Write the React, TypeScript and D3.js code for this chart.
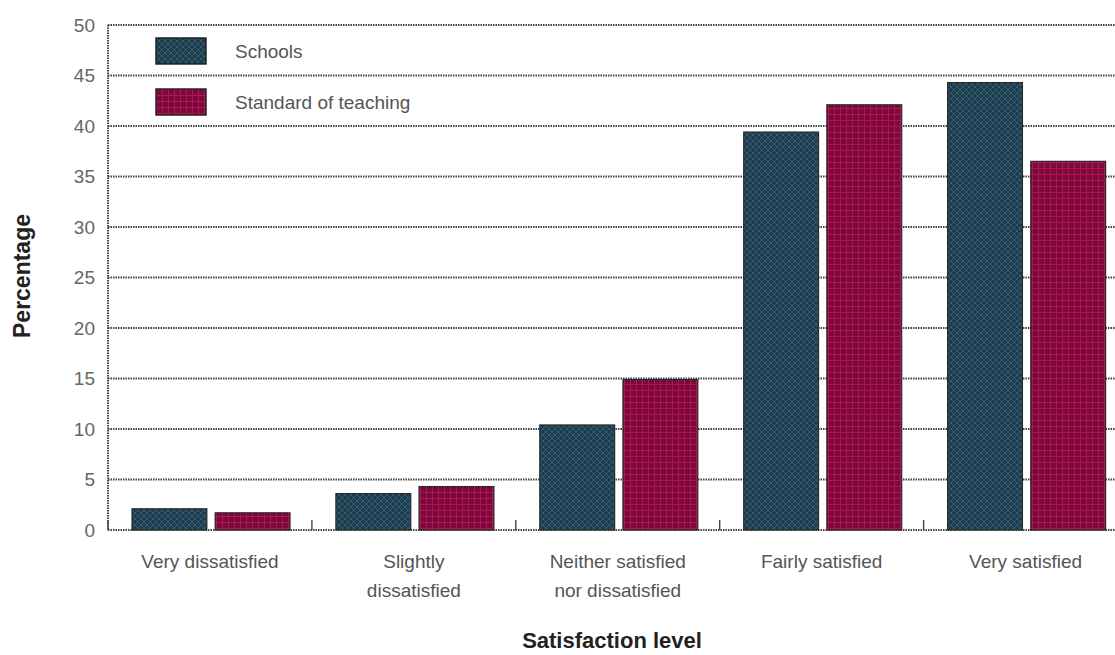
import React from "react";
import * as d3 from "d3";

// Survey results: satisfaction with schools and with the standard of teaching
const categories: string[][] = [
  ["Very dissatisfied"],
  ["Slightly", "dissatisfied"],
  ["Neither satisfied", "nor dissatisfied"],
  ["Fairly satisfied"],
  ["Very satisfied"],
];
const seriesNames = ["Schools", "Standard of teaching"];
const schools = [2.1, 3.6, 10.4, 39.4, 44.3];
const teaching = [1.7, 4.3, 14.9, 42.1, 36.5];
const yTicks = [0, 5, 10, 15, 20, 25, 30, 35, 40, 45, 50];

const W = 1115;
const H = 655;
const margin = { left: 108, right: -12.5, top: 25, bottom: 125 };

const FONT = "'Liberation Sans', Arial, sans-serif";

export default function App() {
  const x = d3
    .scaleBand<number>()
    .domain(d3.range(categories.length))
    .range([margin.left, W - margin.right])
    .padding(0);
  const inner = d3
    .scaleBand<string>()
    .domain(seriesNames)
    .range([24, 182])
    .paddingInner(0.1)
    .paddingOuter(0);
  const y = d3
    .scaleLinear()
    .domain([0, 50])
    .range([H - margin.bottom, margin.top]);

  const fills = ["url(#patSchools)", "url(#patTeaching)"];
  const values = [schools, teaching];
  const x0 = margin.left;
  const x1 = W - margin.right;

  return (
    <svg
      width={W}
      height={H}
      style={{ position: "absolute", left: 0, top: 0, background: "#fff" }}
    >
      <defs>
        <pattern id="patSchools" width="6" height="6" patternUnits="userSpaceOnUse">
          <rect width="6" height="6" fill="#223a4f" />
          <path d="M0,0 L6,6 M6,0 L0,6" stroke="#2f7478" strokeWidth="0.9" opacity="0.75" />
        </pattern>
        <pattern id="patTeaching" width="6" height="6" patternUnits="userSpaceOnUse">
          <rect width="6" height="6" fill="#7f0740" />
          <path d="M0,0.5 H6 M0.5,0 V6" stroke="#b3204c" strokeWidth="1" opacity="0.8" />
        </pattern>
      </defs>

      {/* horizontal grid lines */}
      {yTicks.map((t) => (
        <line
          key={"g" + t}
          x1={x0}
          x2={x1}
          y1={y(t)}
          y2={y(t)}
          stroke="#444"
          strokeWidth={2}
          strokeDasharray="1.5,1"
        />
      ))}

      {/* y axis line */}
      <line x1={x0} x2={x0} y1={y(50)} y2={y(0)} stroke="#444" strokeWidth={2} strokeDasharray="1.5,1" />

      {/* y tick labels */}
      {yTicks.map((t) => (
        <text
          key={"t" + t}
          x={95}
          y={y(t)}
          dy="0.36em"
          textAnchor="end"
          fontFamily={FONT}
          fontSize={19}
          fill="#666"
        >
          {t}
        </text>
      ))}

      {/* category boundary ticks */}
      {d3.range(categories.length + 1).map((i) => {
        const xx = i < categories.length ? x(i)! : x1;
        return (
          <line key={"ct" + i} x1={xx} x2={xx} y1={y(0)} y2={y(0) - 10} stroke="#444" strokeWidth={1.4} />
        );
      })}

      {/* bars */}
      {categories.map((_, i) =>
        seriesNames.map((s, k) => {
          const v = values[k][i];
          const bx = x(i)! + inner(s)!;
          return (
            <rect
              key={s + i}
              x={bx}
              y={y(v)}
              width={inner.bandwidth()}
              height={y(0) - y(v)}
              fill={fills[k]}
              stroke="#2a2a2a"
              strokeWidth={1.2}
            />
          );
        })
      )}

      {/* category labels */}
      {categories.map((lines, i) => (
        <text
          key={"c" + i}
          x={x(i)! + x.bandwidth() / 2}
          y={568}
          textAnchor="middle"
          fontFamily={FONT}
          fontSize={19}
          fill="#555"
        >
          {lines.map((l, j) => (
            <tspan key={j} x={x(i)! + x.bandwidth() / 2} dy={j === 0 ? 0 : 29}>
              {l}
            </tspan>
          ))}
        </text>
      ))}

      {/* legend */}
      {seriesNames.map((s, k) => (
        <g key={"l" + s} transform={`translate(156, ${38 + k * 51})`}>
          <rect width={50} height={26} fill={fills[k]} stroke="#1a1a1a" strokeWidth={1.4} />
          <text x={79} y={13} dy="0.36em" fontFamily={FONT} fontSize={19} fill="#555">
            {s}
          </text>
        </g>
      ))}

      {/* axis titles */}
      <text
        transform={`translate(30, ${276}) rotate(-90)`}
        textAnchor="middle"
        fontFamily={FONT}
        fontSize={23}
        fontWeight="bold"
        fill="#222"
      >
        Percentage
      </text>
      <text
        x={612}
        y={648}
        textAnchor="middle"
        fontFamily={FONT}
        fontSize={22}
        fontWeight="bold"
        fill="#222"
      >
        Satisfaction level
      </text>
    </svg>
  );
}
